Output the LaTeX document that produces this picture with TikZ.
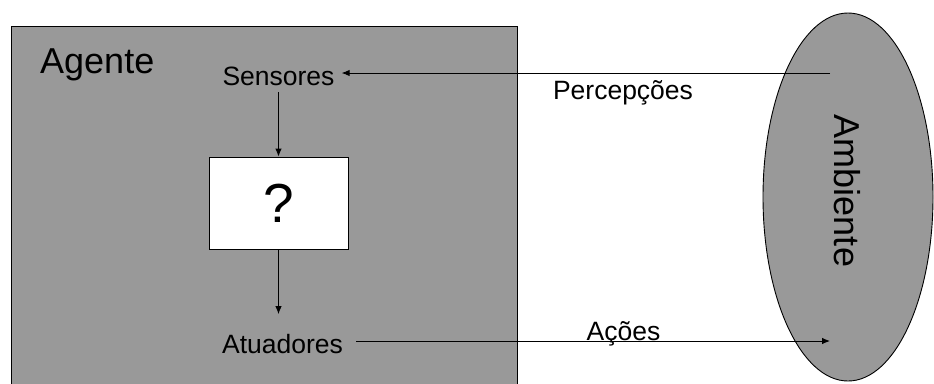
\documentclass[tikz,border=0pt]{standalone}
\usepackage{fontspec}
\setmainfont{Liberation Sans}
\usetikzlibrary{arrows.meta}
\definecolor{fillgray}{RGB}{153,153,153}
\tikzset{
  lbl/.style={inner sep=0pt, font=\fontsize{26.5}{30}\selectfont},
  big/.style={inner sep=0pt, font=\fontsize{36}{40}\selectfont},
  arr/.style={line width=0.9pt, -{Latex[length=8pt,width=6.5pt]}},
  shape gray/.style={draw=black, line width=0.9pt, fill=fillgray}
}
\begin{document}
\begin{tikzpicture}[x=1pt,y=-1pt]
\useasboundingbox (0,0) rectangle (934,383);
\path[clip] (0,0) rectangle (934,383);
% agent box
\path[shape gray] (11,26) rectangle (517,400);
\node[big, anchor=base west] (agente) at (40,73) {Agente};
% environment ellipse
\path[shape gray] (848,197) ellipse [x radius=85, y radius=184];
\node[big, rotate=-90] (amb) at (847,191) {Ambiente};
% inner nodes
\node[lbl, anchor=base] (sens) at (278.5,85) {Sensores};
\node[draw=black, line width=0.9pt, fill=white, minimum width=139pt, minimum height=92pt, inner sep=0pt,
      font=\fontsize{55}{60}\selectfont] (box) at (278.5,203) {?};
\node[lbl, anchor=base] (atu) at (282.5,353) {Atuadores};
\node[lbl, anchor=base] (perc) at (623,99) {Percepções};
\node[lbl, anchor=base] (acoes) at (623.5,340) {Ações};
\coordinate (ambP) at (830,73);
\coordinate (ambA) at (830,341);
% connectors
\draw[arr, shorten >=7pt] (ambP) -- (sens.east |- ambP);
\draw[arr, shorten <=7pt] (sens.south) -- (box.north);
\draw[arr, shorten >=19.5pt] (box.south) -- (box.south |- atu.north);
\draw[arr, shorten <=13pt] (atu.east |- ambA) -- (ambA);
\end{tikzpicture}
\end{document}
